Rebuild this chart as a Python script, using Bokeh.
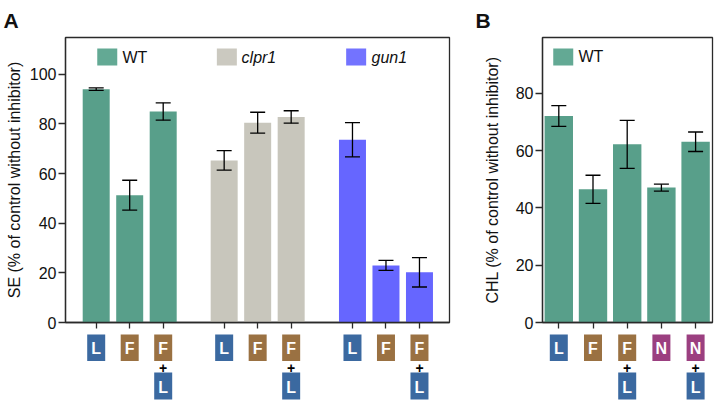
from bokeh.plotting import figure
from bokeh.layouts import row, column
from bokeh.models import Range1d, FixedTicker, Whisker, ColumnDataSource, TeeHead
from bokeh.core.properties import value
from bokeh.embed import file_html
from bokeh.resources import INLINE

FONT = "Liberation Sans"

# ---------------- data ----------------
a_groups = ["WT", "clpr1", "gun1"]
a_treat = ["L", "F", "F+L"]
a_wt = [94.0, 51.3, 85.0]
a_wt_err = [0.5, 6.0, 3.5]
a_clpr1 = [65.3, 80.5, 82.8]
a_clpr1_err = [3.9, 4.2, 2.5]
a_gun1 = [73.6, 23.0, 20.2]
a_gun1_err = [6.9, 2.0, 5.9]
a_ticks = [0, 20, 40, 60, 80, 100]

b_groups = ["WT"]
b_treat = ["L", "F", "F+L", "N", "N+L"]
b_wt = [72.1, 46.5, 62.2, 47.1, 63.1]
b_wt_err = [3.6, 4.9, 8.4, 1.2, 3.4]
b_ticks = [0, 20, 40, 60, 80]

# ---------------- styles ----------------
BAR_COLORS = {"WT": "#589f8a", "clpr1": "#c8c6bc", "gun1": "#6666ff"}
LEG_COLORS = {"WT": "#63a994", "clpr1": "#cbc9c0", "gun1": "#7373ff"}
BOX_COLORS = {"L": "#3b69a0", "F": "#9a7142", "N": "#9b3f80"}
AXC = "#2a2a2a"
TXT = "#111111"

FRAME_TOP = 35      # top edge of the boxed plot area
FRAME_BOT = 322     # value 0
TOP_H = 334         # height of the bar figure
BOT_H = 67          # height of the treatment-label strip (starts at TOP_H)


def build(width, bl, br, x_range, y_top, xs, vals, errs, colors, treats, ticks,
          ylabel, lab_stand, bar_w, legend, panel_letter, letter_offset):
    p = figure(width=width, height=TOP_H, output_backend="svg", toolbar_location=None,
               x_range=x_range, y_range=Range1d(0, y_top),
               min_border_left=bl, min_border_right=br,
               min_border_top=FRAME_TOP, min_border_bottom=TOP_H - FRAME_BOT)
    p.outline_line_color = AXC
    p.outline_line_width = 1.3
    p.xgrid.visible = False
    p.ygrid.visible = False
    p.background_fill_color = "white"
    p.border_fill_color = "white"

    p.title.text = panel_letter
    p.title.align = "left"
    p.title.offset = letter_offset
    p.title.standoff = 12
    p.title.text_font = FONT
    p.title.text_font_size = "21px"
    p.title.text_font_style = "bold"
    p.title.text_color = TXT

    ax = p.yaxis[0]
    ax.ticker = FixedTicker(ticks=ticks)
    ax.axis_line_color = AXC
    ax.axis_line_width = 1.3
    ax.major_tick_line_color = AXC
    ax.major_tick_line_width = 1.3
    ax.major_tick_out = 7
    ax.major_tick_in = 0
    ax.minor_tick_line_color = None
    ax.major_label_text_font = FONT
    ax.major_label_text_font_size = "16px"
    ax.major_label_text_color = TXT
    ax.major_label_standoff = 2
    ax.axis_label = ylabel
    ax.axis_label_text_font = FONT
    ax.axis_label_text_font_size = "16px"
    ax.axis_label_text_font_style = "normal"
    ax.axis_label_text_color = TXT
    ax.axis_label_standoff = lab_stand

    # x axis: tick marks only (treatments are shown as coloured boxes below)
    xa = p.xaxis[0]
    xa.ticker = FixedTicker(ticks=xs)
    xa.axis_line_color = AXC
    xa.axis_line_width = 1.3
    xa.major_tick_line_color = AXC
    xa.major_tick_line_width = 1.3
    xa.major_tick_out = 6
    xa.major_tick_in = 0
    xa.minor_tick_line_color = None
    xa.major_label_text_color = None
    xa.major_label_text_font_size = "1px"
    xa.major_label_standoff = 0

    # bars + error bars
    src = ColumnDataSource(dict(x=xs, top=vals, color=colors,
                                upper=[v + e for v, e in zip(vals, errs)],
                                lower=[v - e for v, e in zip(vals, errs)]))
    p.vbar(x="x", top="top", bottom=0, width=bar_w, fill_color="color",
           line_color=None, source=src)
    p.add_layout(Whisker(base="x", upper="upper", lower="lower", source=src, level="overlay",
                         line_color="black", line_width=1.3,
                         upper_head=TeeHead(size=15, line_color="black", line_width=1.3),
                         lower_head=TeeHead(size=15, line_color="black", line_width=1.3)))

    # legend
    for (name, lx, tx, ly) in legend:
        p.rect(x=[lx], y=[ly], width=20, height=17, width_units="screen", height_units="screen",
               fill_color=LEG_COLORS[name], line_color=None)
        p.text(x=[tx], y=[ly], text=[name], text_align="left", text_baseline="middle",
               text_color=TXT, text_font=value(FONT),
               text_font_style="normal" if name == "WT" else "italic",
               text_font_size="16px")

    # treatment strip below the axis (y = pixels from the top of the strip)
    q = figure(width=width, height=BOT_H, output_backend="svg", toolbar_location=None,
               x_range=x_range, y_range=Range1d(BOT_H, 0),
               x_axis_location=None, y_axis_location=None,
               min_border_left=bl, min_border_right=br, min_border_top=0, min_border_bottom=0)
    q.outline_line_color = None
    q.xgrid.visible = False
    q.ygrid.visible = False
    q.background_fill_color = "white"
    q.border_fill_color = "white"

    bx, by, bc, bt = [], [], [], []
    px_, py_ = [], []
    for x, t in zip(xs, treats):
        parts = t.split("+")
        bx.append(x); by.append(13); bc.append(BOX_COLORS[parts[0]]); bt.append(parts[0])
        if len(parts) > 1:
            px_.append(x); py_.append(33)
            bx.append(x); by.append(51.5); bc.append(BOX_COLORS[parts[1]]); bt.append(parts[1])
    bsrc = ColumnDataSource(dict(x=bx, y=by, c=bc, t=bt))
    q.rect(x="x", y="y", width=18, height=27, width_units="screen", height_units="screen",
           fill_color="c", line_color=None, source=bsrc)
    q.text(x="x", y="y", text="t", text_align="center", text_baseline="middle",
           text_color="white", text_font=value(FONT), text_font_style="bold",
           text_font_size="16px", y_offset=1, source=bsrc)
    q.text(x=px_, y=py_, text=["+"] * len(px_), text_align="center", text_baseline="middle",
           text_color="black", text_font=value(FONT), text_font_style="bold",
           text_font_size="14px")
    return column(p, q)


# ---------- panel A ----------
A_UNIT = 33.5   # px per bar slot
A_X0 = 95.7     # pixel centre of first bar
a_group_start = [0.0, 3.82, 7.65]
a_x, a_v, a_e, a_c, a_t = [], [], [], [], []
for g, gs, vals, errs in zip(a_groups, a_group_start, [a_wt, a_clpr1, a_gun1],
                             [a_wt_err, a_clpr1_err, a_gun1_err]):
    for i, t in enumerate(a_treat):
        a_x.append(gs + i); a_v.append(vals[i]); a_e.append(errs[i])
        a_c.append(BAR_COLORS[g]); a_t.append(t)
a_range = Range1d((65 - A_X0) / A_UNIT, (449 - A_X0) / A_UNIT)
pa = build(width=470, bl=65, br=21, x_range=a_range, y_top=114.8,
           xs=a_x, vals=a_v, errs=a_e, colors=a_c, treats=a_t, ticks=a_ticks,
           ylabel="SE (% of control without inhibitor)", lab_stand=4, bar_w=0.806,
           legend=[("WT", 0.33, 0.785, 106.9), ("clpr1", 3.90, 4.34, 106.9),
                   ("gun1", 7.76, 8.22, 106.9)],
           panel_letter="A", letter_offset=-62)

# ---------- panel B ----------
B_UNIT = 34.2
B_X0 = 558.3
b_x = list(range(len(b_treat)))
b_range = Range1d((542 - B_X0) / B_UNIT, (712 - B_X0) / B_UNIT)
pb = build(width=244, bl=72, br=2, x_range=b_range, y_top=99.5,
           xs=b_x, vals=b_wt, errs=b_wt_err, colors=[BAR_COLORS["WT"]] * len(b_x),
           treats=b_treat, ticks=b_ticks,
           ylabel="CHL (% of control without inhibitor)", lab_stand=12, bar_w=0.83,
           legend=[("WT", 0.13, 0.576, 92.7)], panel_letter="B", letter_offset=-67)

layout = row(pa, pb)
open("out.html", "w").write(file_html(layout, INLINE))
